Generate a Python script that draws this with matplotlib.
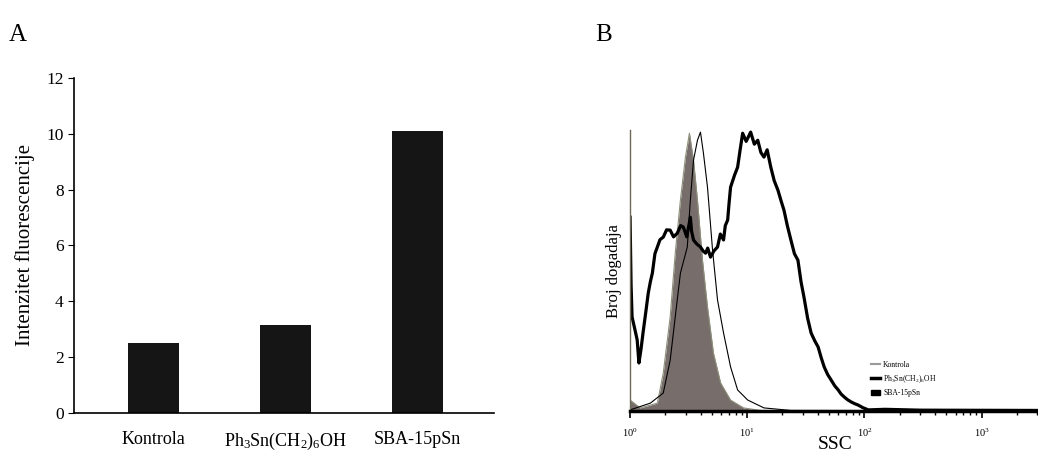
import numpy as np
import matplotlib.pyplot as plt

plt.rcParams['font.family'] = ['Liberation Serif', 'DejaVu Serif']
plt.rcParams['mathtext.default'] = 'regular'

# Panel A data
categories = ['Kontrola', r'Ph$_3$Sn(CH$_2$)$_6$OH', 'SBA-15pSn']
intensity = [2.5, 3.15, 10.1]
y_ticks = [0, 2, 4, 6, 8, 10, 12]

# Panel B data (SSC, % of max events)
sba_ssc = [1.0, 1.02, 1.04, 1.1, 1.15, 1.19, 1.24, 1.29, 1.36, 1.43, 1.49, 1.55, 1.63,
           1.71, 1.8, 1.92, 2.05, 2.2, 2.35, 2.53, 2.7, 2.85, 3.05, 3.27, 3.35, 3.48, 3.7,
           3.99, 4.2, 4.41, 4.6, 4.86, 5.2, 5.58, 5.9, 6.28, 6.5, 6.81, 7.0, 7.21, 7.8,
           8.28, 8.7, 9.14, 9.8, 10.7, 11.5, 12.3, 13.1, 13.9, 14.8, 15.9, 17.0, 18.3,
           19.4, 20.6, 22.0, 23.6, 25.3, 27.1, 28.8, 30.5, 32.8, 35.1, 37.7, 40.3, 42.8,
           45.4, 48.6, 52.1, 55.8, 59.8, 63.4, 67.3, 72.0, 77.3, 82.8, 88.7, 97.0, 108,
           150, 300, 3162]
sba_cnt = [69.0, 45.0, 33.5, 29.0, 25.3, 17.1, 22.0, 27.8, 35.0, 42.0, 46.0, 49.1, 56.0,
           58.4, 61.0, 61.9, 64.5, 64.4, 62.0, 63.3, 66.0, 65.5, 62.0, 69.0, 64.0, 60.9,
           59.5, 58.4, 57.0, 56.2, 58.0, 54.8, 57.0, 58.4, 63.0, 60.9, 66.0, 68.0, 74.0,
           79.7, 84.0, 86.8, 93.0, 98.9, 96.0, 99.3, 95.0, 96.4, 92.0, 90.4, 93.0, 86.8,
           82.0, 78.6, 75.0, 71.5, 66.0, 60.9, 56.0, 53.7, 46.0, 40.6, 33.0, 27.8, 25.0,
           22.8, 19.0, 15.7, 13.0, 11.0, 9.0, 7.5, 6.0, 5.0, 4.0, 3.2, 2.6, 2.1, 1.2, 0.4,
           0.6, 0.3, 0.2]

ph_ssc = [1.0, 1.49, 1.92, 2.2, 2.43, 2.69, 3.08, 3.27, 3.48, 3.76, 3.99, 4.23, 4.58,
          5.06, 5.58, 6.28, 7.21, 8.28, 10.1, 13.9, 23.6, 3162]
ph_cnt = [0.4, 2.8, 6.4, 18.1, 33.5, 49.1, 58.4, 75.1, 89.3, 96.4, 99.3, 91.8, 79.7,
          57.3, 39.5, 27.8, 15.7, 7.5, 3.9, 1.1, 0.2, 0.1]

ctrl_ssc = [1.0, 1.22, 1.71, 1.92, 2.2, 2.43, 2.69, 2.97, 3.21, 3.48, 3.76, 4.15, 4.58,
            5.15, 5.93, 7.21, 9.33, 13.9]
ctrl_cnt = [3.9, 1.1, 2.8, 13.5, 33.5, 56.2, 75.1, 90.4, 98.9, 89.3, 75.1, 53.7, 37.0,
            20.6, 10.0, 3.9, 1.1, 0.0]

fig = plt.figure(figsize=(10.38, 4.53), dpi=100)

# ---- Panel A ----
axA = fig.add_axes([0.0713, 0.0883, 0.405, 0.740])
x = np.arange(len(categories))
axA.bar(x, intensity, width=0.387, color='#151515')
axA.set_xlim(-0.6, 2.58)
axA.set_ylim(0, 12)
axA.set_yticks(y_ticks)
axA.set_xticks(x)
axA.set_xticklabels(categories, fontsize=13)
axA.tick_params(axis='x', length=0, pad=13)
axA.tick_params(axis='y', labelsize=12.5, length=4, width=0.8)
axA.set_ylabel('Intenzitet fluorescencije', fontsize=15, labelpad=8)
for s in ['top', 'right']:
    axA.spines[s].set_visible(False)
axA.spines['left'].set_linewidth(1.2)
axA.spines['bottom'].set_linewidth(1.2)
fig.text(0.008, 0.91, 'A', fontsize=18)

# ---- Panel B ----
axB = fig.add_axes([0.607, 0.0927, 0.395, 0.620])
axB.fill_between(ctrl_ssc, ctrl_cnt, color='#776e6c', lw=0)
axB.plot(ctrl_ssc, ctrl_cnt, color='#8d8f7a', lw=0.8)
axB.plot(ph_ssc, ph_cnt, color='black', lw=0.8)
axB.plot(sba_ssc, sba_cnt, color='black', lw=2.3)
axB.set_xscale('log')
axB.set_xlim(1, 10 ** 3.5)
axB.set_ylim(0, 100)
axB.set_yticks([])
axB.set_xticks([1, 10, 100, 1000])
axB.tick_params(axis='x', which='major', labelsize=7.5, length=5, width=1.2, pad=6)
axB.tick_params(axis='x', which='minor', length=3, width=1.0)
axB.set_xlabel('SSC', fontsize=14, labelpad=-2)
axB.set_ylabel('Broj dogadaja', fontsize=12, labelpad=6)
for s in ['top', 'right']:
    axB.spines[s].set_visible(False)
axB.spines['bottom'].set_linewidth(2.5)
axB.spines['left'].set_color('#6d6a5a')
axB.spines['left'].set_linewidth(1.0)

h1, = axB.plot([], [], color='#9a9a9a', lw=1.5)
h2, = axB.plot([], [], color='black', lw=2.5)
h3 = plt.Rectangle((0, 0), 1, 1, color='black')
axB.legend([h1, h2, h3], ['Kontrola', r'Ph$_3$Sn(CH$_2$)$_6$OH', 'SBA-15pSn'],
           loc='upper left', bbox_to_anchor=(0.58, 0.19), frameon=False,
           fontsize=5.5, handlelength=1.2, handletextpad=0.4, labelspacing=0.6,
           borderaxespad=0)
fig.text(0.573, 0.91, 'B', fontsize=18)

fig.savefig('out.png', dpi=100)
